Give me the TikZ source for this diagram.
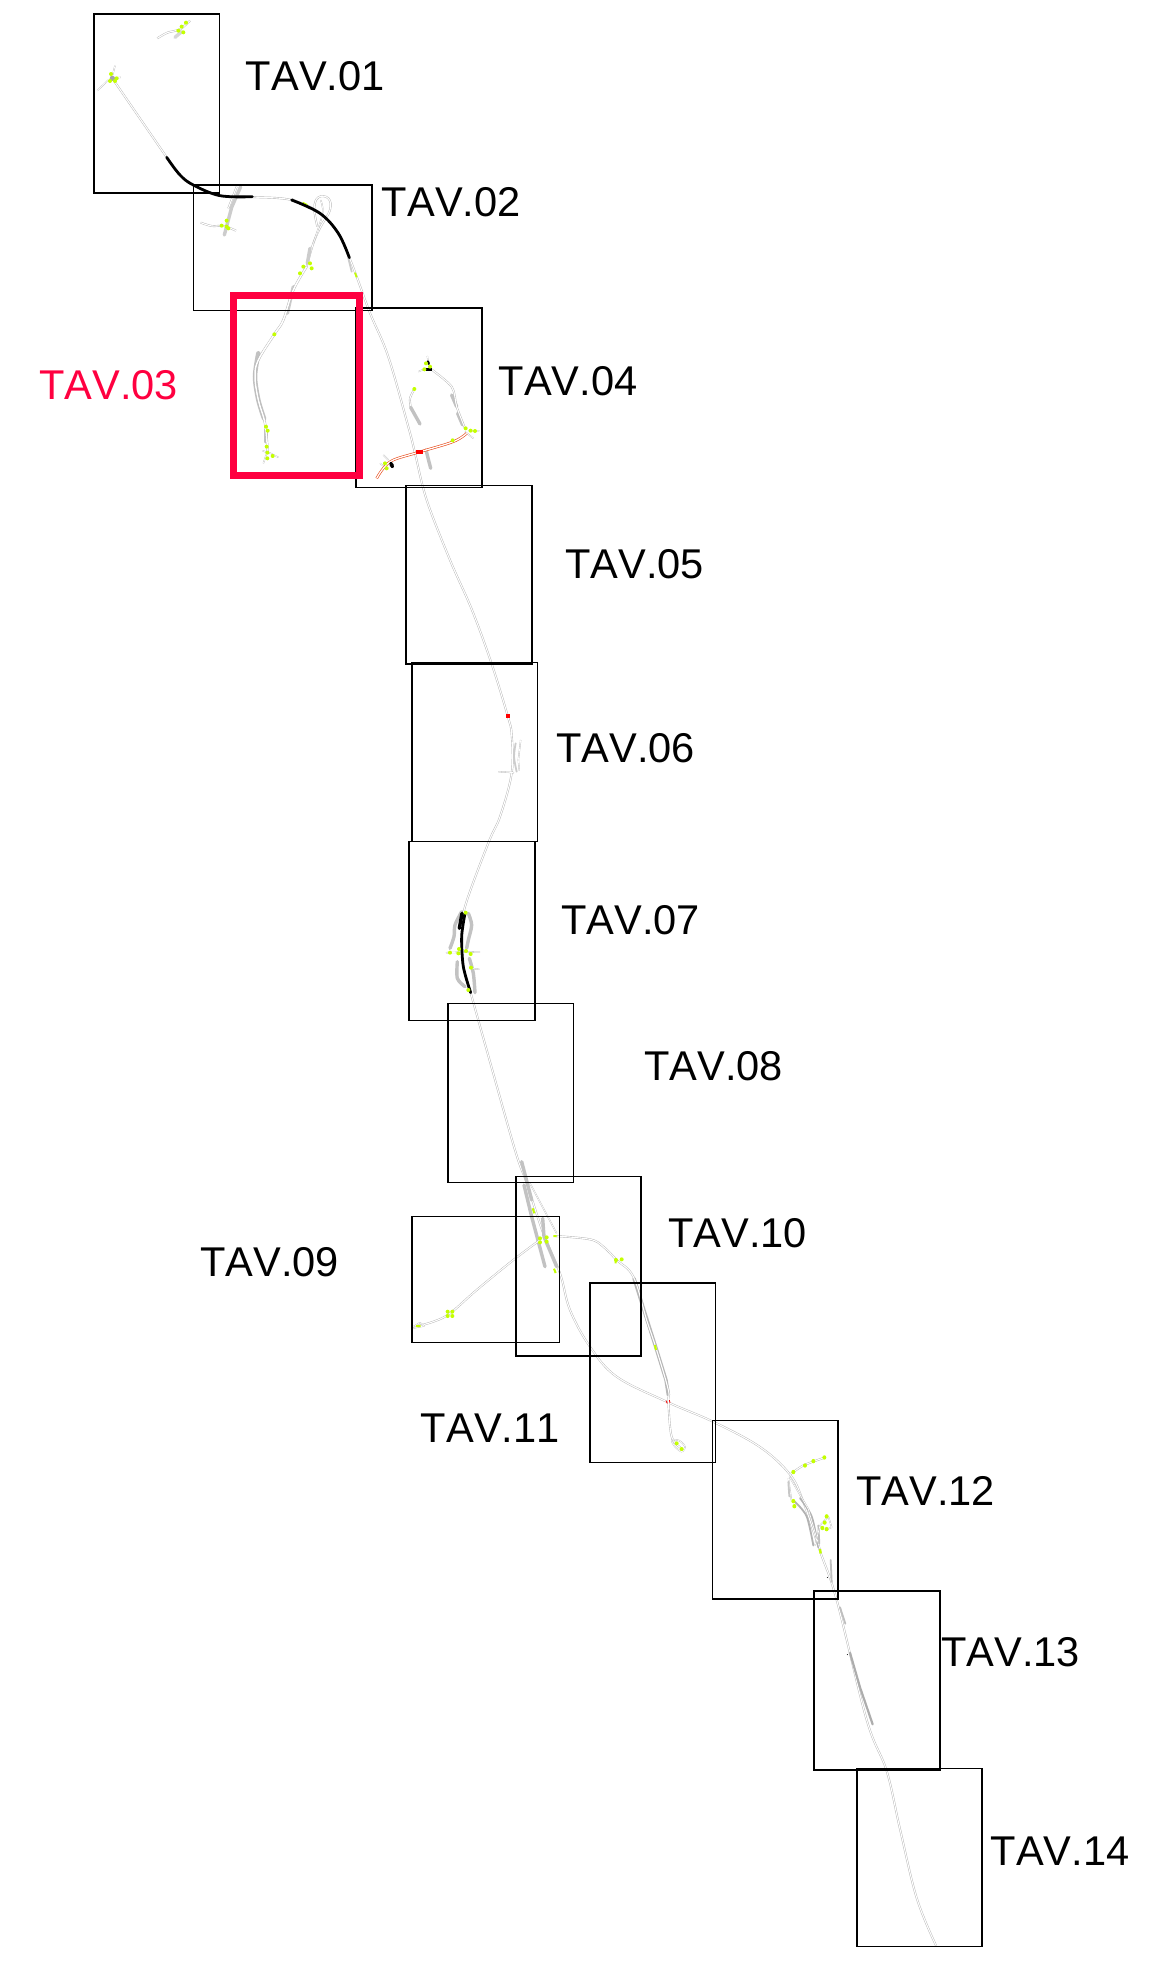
\documentclass[tikz,border=0pt]{standalone}
\usepackage{fontspec}
\setmainfont[Kerning=Off]{Liberation Sans}
\definecolor{tavred}{RGB}{255,0,64}
\definecolor{lime}{RGB}{196,255,0}
\definecolor{rdorange}{RGB}{232,70,20}
\tikzset{
  frame/.style={draw=black,line width=1.6pt},
  redframe/.style={draw=tavred,line width=6.5pt},
  lbl/.style={anchor=base west,inner sep=0pt,font=\fontsize{41.6}{46}\selectfont,text=black},
  road/.style={draw=black!30,line width=.4pt,double=white,double distance=1.1pt,line join=round},
  thinroad/.style={draw=black!30,line width=.3pt,double=white,double distance=.7pt,line join=round},
  emb/.style={draw=black!24,line width=3.4pt,line cap=round},
  embb/.style={draw=black!30,line width=1.8pt,line cap=round},
  heavy/.style={draw=black,line width=2.8pt,line cap=round},
  redroad/.style={draw=rdorange,line width=.6pt,double=white,double distance=1.3pt,line join=round},
  zI/.style={shift={(80,0)},scale=.33333},
  zII/.style={shift={(340,300)},scale=.33333},
  zIII/.style={shift={(400,650)},scale=.33333},
  zIV/.style={shift={(400,1150)},scale=.33333},
  zV/.style={shift={(700,1400)},xscale=.33333,yscale=.36364},
}
\newcommand{\limedots}[1]{\foreach \p in {#1}{\fill[lime] \p circle[radius=6];}}
\begin{document}
\begin{tikzpicture}[x=1pt,y=-1pt]
\useasboundingbox (0,0) rectangle (1163,1973);
\fill[white] (0,0) rectangle (1163,1973);

% ---- main alignment
\draw[road] plot[smooth,tension=.55] coordinates {(112.3,78.3)(166.7,157.3)};
\draw[road] plot[smooth,tension=.6] coordinates {(220,196)(252,197)(291.7,200)(320,213.3)(338.3,233.3)(349.3,257.7)(356.7,276.7)(370,313)(388.3,356.7)(408.3,426.7)(415,453)(426.7,500)(450,560)(472,610)(491.7,664)(507.7,716)(511.7,735)(511.7,773)(500,816.7)(488.3,843)(465,906.7)(461.7,936.7)(463.3,966.7)(470.7,993)(486.7,1050)(515,1150)(526.7,1183)(543.3,1233.3)(560,1273.3)(570,1310)(590,1346.7)(616.7,1376.7)(666.7,1401.7)(713.3,1421.8)(760,1447)(790,1474.5)(803.3,1501.8)(820,1551)(836.7,1600)(866.7,1720)(886.7,1771)(900,1829)(916.7,1898)(936,1945.5)};

% ---- TAV.01 details
\begin{scope}[zI]
  \draw[thinroad] (52,272)--(85,240) (105,197)--(98,225) (100,235)--(122,232);
  \fill[black!35] (97,235) circle[radius=8];
  \draw[road] plot[smooth] coordinates {(232,115)(262,98)(300,88)(330,62)};
  \draw[emb,black!16] (285,112)--(305,95);
  \limedots{(93,222),(110,235),(90,243),(105,243),(318,68),(295,92),(310,97),(305,80)}
  % TAV.02 left interchange
  \draw[emb,black!20] (482,560)--(455,622)--(433,705);
  \draw[road] (470,560)--(445,625);
  \draw[road] plot[smooth] coordinates {(362,668)(395,678)(432,678)(468,692)};
  \limedots{(425,677),(440,662),(440,680),(445,685)}
  % loops
  \draw[road] plot[smooth,tension=.7] coordinates {(680,800)(700,730)(722,680)(750,630)(745,595)(715,592)(703,625)(712,680)};
  \draw[thinroad] plot[smooth] coordinates {(722,600)(728,640)(700,730)};
  \draw[road] (635,597)--(690,625);
  \draw[emb,black!20] (690,745)--(682,790);
  \draw[embb,black!20] (805,775)--(815,815);
  % branch through TAV.03
  \draw[emb,black!20] (640,860)--(622,940);
  \draw[emb,line width=4.5pt] plot[smooth] coordinates {(535,1060)(525,1130)(535,1200)(552,1255)};
  \draw[emb] (558,1290)--(558,1325);
  \draw[road,double distance=1.5pt] plot[smooth,tension=.6] coordinates {(680,800)(640,870)(610,960)(585,1000)(535,1080)(525,1130)(535,1200)(555,1270)(563,1355)};
  \draw[thinroad] (550,1390)--(562,1355)--(595,1372) (548,1352)--(562,1358);
  \limedots{(660,820),(670,800),(690,790),(695,805),(583,1003)}
  \draw[lime,line width=1.8pt] (668,608)--(682,615) (825,818)--(830,832);
  \limedots{(558,1280),(563,1292),(560,1340),(562,1358),(562,1375),(578,1368)}
  % heavy black segments
  \draw[heavy] plot[smooth,tension=.6] coordinates {(260,472)(300,525)(340,555)(420,587)(517,590)};
  \draw[heavy] plot[smooth,tension=.6] coordinates {(635,600)(720,640)(775,700)(808,773)};
\end{scope}

% ---- TAV.04 details
\begin{scope}[zII]
  \draw[emb] (335,285)--(350,320);
  \draw[emb] (353,340)--(368,375);
  \draw[road] plot[smooth] coordinates {(270,205)(335,260)(350,320)(375,385)};
  \draw[road] plot[smooth] coordinates {(223,267)(210,295)(212,320)};
  \draw[emb] (212,322)--(240,372);
  \draw[emb] (258,450)--(272,505);
  \draw[thinroad] (262,168)--(265,190) (235,215)--(258,205);
  \draw[thinroad] (375,395)--(400,415) (385,392)--(418,392);
  \draw[thinroad] (130,465)--(145,480) (120,490)--(140,505);
  \draw[redroad] plot[smooth,tension=.6] coordinates {(110,535)(130,505)(160,480)(238,456)(340,425)(380,400)};
  \fill[red] (229,450) rectangle (248,462);
  \fill[black,rotate around={-65:(155,495)}] (155,495) ellipse[x radius=10,y radius=6];
  \fill[black] (258,203) rectangle (276,213);
  \fill[black,rotate around={-70:(265,188)}] (265,188) ellipse[x radius=7,y radius=4];
  \limedots{(258,190),(270,200),(253,208),(223,267),(377,385),(392,392),(405,393),(338,421),(135,490),(140,505)}
\end{scope}

% ---- TAV.06 / TAV.07 details
\begin{scope}[zIII]
  \fill[red] (317,192) rectangle (329,204);
  \draw[embb,black!20] plot[smooth] coordinates {(347,280)(342,320)(350,365)};
  \draw[thinroad] (362,270)--(355,330)--(358,362);
  \draw[thinroad] (295,365)--(342,368);
  % TAV.07
  \draw[emb] plot[smooth] coordinates {(185,785)(165,825)(162,860)(150,895)};
  \draw[emb] plot[smooth] coordinates {(205,790)(215,825)(205,870)(200,895)};
  \draw[emb] plot[smooth] coordinates {(172,935)(172,985)(195,1010)};
  \draw[emb] plot[smooth] coordinates {(208,925)(220,970)(225,1028)};
  \draw[thinroad] (138,908)--(240,905) (213,955)--(238,958);
  \draw[heavy] plot[smooth] coordinates {(195,790)(185,860)(190,950)(212,1028)};
  \draw[heavy,line width=3.4pt] (186,790)--(178,835);
  \limedots{(197,788),(150,908),(177,897),(175,910),(198,903),(212,912),(213,953),(205,1020)}
\end{scope}

% ---- TAV.09 / TAV.10 / TAV.11 details
\begin{scope}[zIV]
  \draw[emb] (365,35)--(382,100)--(395,150);
  \draw[emb] (372,105)--(395,200)--(435,350);
  \draw[emb] (428,205)--(432,260)--(470,350);
  \draw[thinroad] (390,100)--(470,250);
  \draw[road] plot[smooth,tension=.6] coordinates {(420,270)(340,330)(230,420)(150,490)(100,515)(45,530)};
  \draw[thinroad] (40,530)--(60,518)--(72,528)--(40,534);
  \draw[emb,black!28] (702,385)--(735,490)--(770,600)--(798,690)--(805,735);
  \draw[road] plot[smooth,tension=.6] coordinates {(465,258)(570,268)(610,290)(650,330)(700,380)(740,510)(770,600)(805,720)(805,755)(815,860)(845,895)};
  \draw[thinroad] plot[smooth cycle] coordinates {(815,870)(838,872)(855,890)(845,905)(825,890)};
  \draw[red,line width=.8pt] (798,752)--(802,760) (808,750)--(810,758);
  \limedots{(143,485),(157,485),(143,498),(157,498),(420,265),(420,277),(440,262),(440,275),(648,330),(665,328),(830,880),(845,897)}
  \draw[lime,line width=2pt] (48,528)--(62,528) (460,258)--(470,258) (398,175)--(403,190) (462,356)--(467,369) (647,325)--(647,340) (765,585)--(768,600);
\end{scope}

% ---- TAV.12 / TAV.13 details
\begin{scope}[zV]
  \draw[road] plot[smooth] coordinates {(270,205)(310,180)(375,158)};
  \draw[embb] plot[smooth] coordinates {(285,280)(320,320)(340,400)};
  \draw[embb] plot[smooth] coordinates {(300,270)(335,320)(355,405)};
  \draw[thinroad] (265,215)--(275,280) (268,210)--(325,300)--(360,410);
  \draw[embb,black!22] (265,225)--(268,265);
  \draw[embb,black!25] (355,345)--(358,395);
  \draw[thinroad] (345,400)--(360,345)--(385,320) (385,320)--(395,350)--(375,358);
  \draw[embb,black!25] (392,440)--(395,500);
  \draw[embb,black!25] (420,570)--(436,615);
  \draw[embb,black!32,line width=2.2pt] (450,695)--(480,790)--(518,892);
  \fill[black] (382,488) circle[radius=1.5] (442,700) circle[radius=1.5];
  \limedots{(280,198),(315,180),(340,168),(373,158),(280,278),(283,292),(380,320),(374,337),(367,352),(380,355)}
  \draw[lime,line width=2.4pt] (360,410)--(362,422);
\end{scope}

% ---- sheet frames
\draw[frame] (93.7,13.7) rectangle (219.3,192.7);
\draw[frame] (193.3,184.7) rectangle (372,310.3);
\draw[frame] (356,308) rectangle (482,487.3);
\draw[frame] (406,485.3) rectangle (532,664);
\draw[frame] (411.7,662.3) rectangle (537.3,841.3);
\draw[frame] (409,841.3) rectangle (535,1020.3);
\draw[frame] (447.7,1003.3) rectangle (573.3,1182.3);
\draw[frame] (412,1216.3) rectangle (559.3,1342.3);
\draw[frame] (515.7,1176.3) rectangle (641,1355.7);
\draw[frame] (590,1283) rectangle (715.3,1462.3);
\draw[frame] (712.3,1420.4) rectangle (837.7,1599);
\draw[frame] (814,1591) rectangle (940,1769.7);
\draw[frame] (857,1768.5) rectangle (982,1946.6);
\draw[redframe] (233.3,295.7) rectangle (359.3,475.3);

% ---- labels
\node[lbl] (t01) at (245.7,90) {TAV.01};
\node[lbl] (t02) at (381.7,216.7) {TAV.02};
\node[lbl,text=tavred] (t03) at (39,399.3) {TAV.03};
\node[lbl] (t04) at (498.5,395.5) {TAV.04};
\node[lbl] (t05) at (565,578) {TAV.05};
\node[lbl] (t06) at (556,762) {TAV.06};
\node[lbl] (t07) at (561,934) {TAV.07};
\node[lbl] (t08) at (644,1080.5) {TAV.08};
\node[lbl] (t09) at (200,1276.5) {TAV.09};
\node[lbl] (t10) at (668,1247) {TAV.10};
\node[lbl] (t11) at (420.7,1442) {TAV.11};
\node[lbl] (t12) at (856,1505.5) {TAV.12};
\node[lbl] (t13) at (941,1666) {TAV.13};
\node[lbl] (t14) at (990.6,1865) {TAV.14};
\end{tikzpicture}
\end{document}
